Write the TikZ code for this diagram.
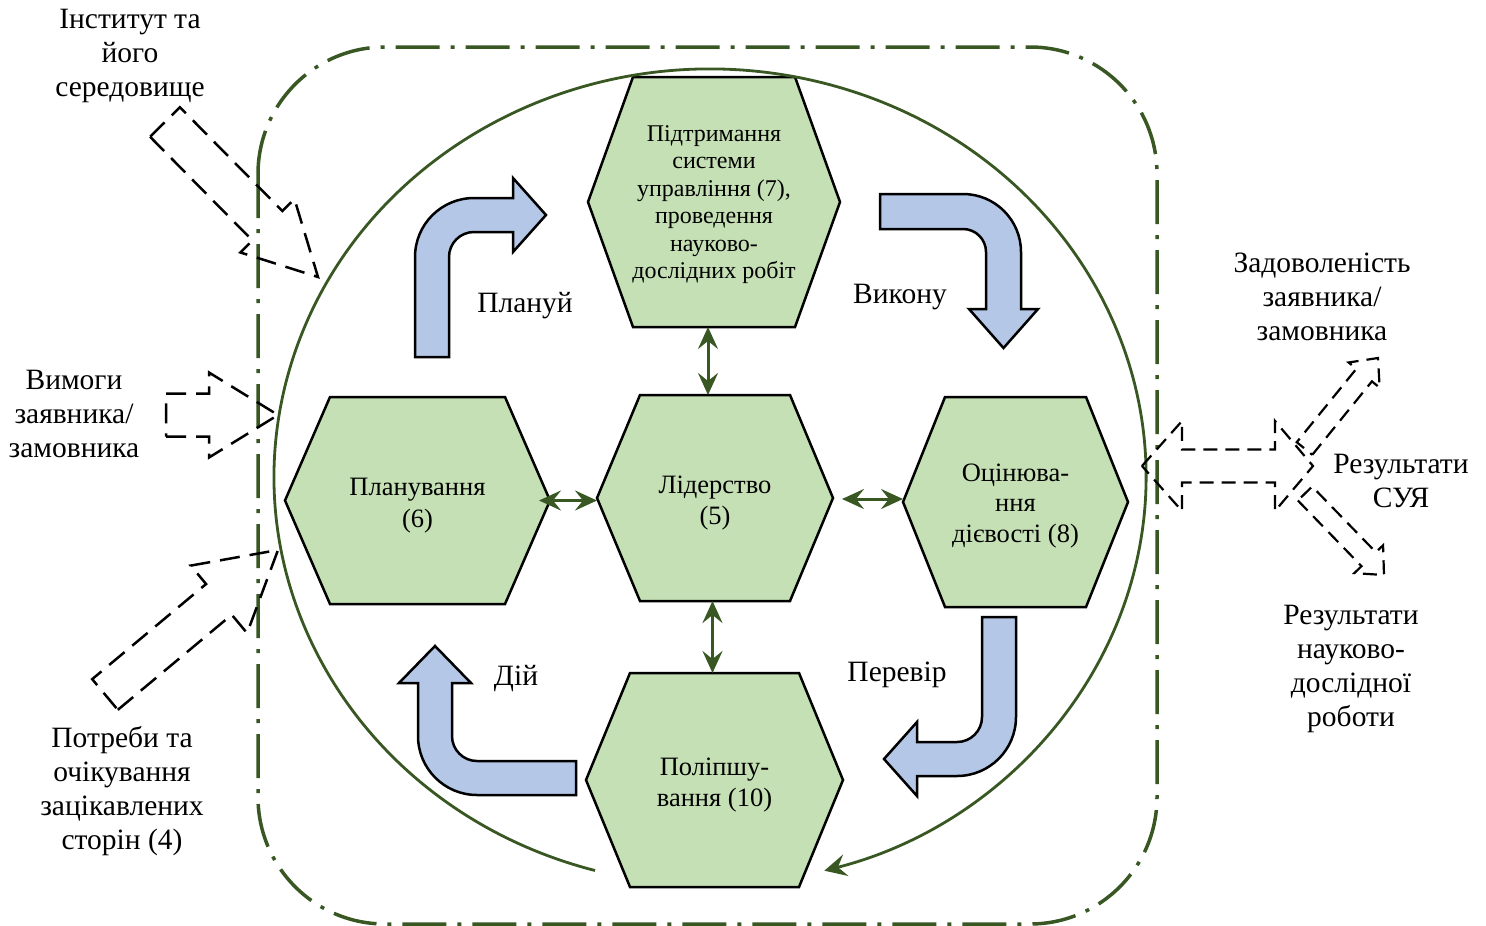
\documentclass[tikz,border=0pt]{standalone}
\usepackage{fontspec}
\setmainfont{Liberation Serif}
\usetikzlibrary{arrows.meta,calc,backgrounds}
\definecolor{hexgreen}{HTML}{C5E0B4}
\definecolor{darkgreen}{HTML}{385723}
\definecolor{arrowblue}{HTML}{B4C7E7}
\newcommand\outerfont{\fontsize{29.5}{34}\selectfont}
\newcommand\hexfont{\fontsize{26.5}{31.5}\selectfont}
\newcommand\hexfonttight{\fontsize{24}{27.5}\selectfont}
\tikzset{
  hexnode/.style={draw=none, inner sep=0pt, outer sep=0pt},
  hextext/.style={inner sep=0pt, align=center, font=\hexfont},
  hexline/.style={draw=black, fill=hexgreen, line width=2.5pt, line join=miter},
  bluearrow/.style={draw=black, fill=arrowblue, line width=2.5pt, line join=miter},
  lbl/.style={align=center, font=\outerfont, inner sep=0pt},
  linkarrow/.style={draw=darkgreen, line width=3pt, {Stealth[length=22pt,width=20pt,inset=8pt]}-{Stealth[length=22pt,width=20pt,inset=8pt]}},
  cyclearc/.style={draw=darkgreen, line width=2.8pt, -{Stealth[length=22pt,width=22pt,inset=8pt]}},
  outerframe/.style={draw=darkgreen, line width=3.5pt, dash pattern=on 44pt off 11pt on 4pt off 11pt},
  dasharrow/.style={draw=black, line width=2.5pt, dash pattern=on 20pt off 10pt, line join=miter},
  dasharrowsmall/.style={draw=black, line width=2.2pt, dash pattern=on 14pt off 8pt, line join=miter},
}
% hexagon outline around a named node: #1 node name, #2 inset of top/bottom edges
\newcommand\hexagonal[2]{%
  \begin{pgfonlayer}{background}
  \draw[hexline] ([xshift=#2]#1.north west) -- ([xshift=-#2]#1.north east) -- (#1.east)
    -- ([xshift=-#2]#1.south east) -- ([xshift=#2]#1.south west) -- (#1.west) -- cycle;
  \end{pgfonlayer}}
% block arrow: style, tail, tip, shaft half width, head half width, head length
\newcommand\blockarr[6]{%
  \coordinate (ba-b) at ($(#3)!#6!(#2)$);
  \draw[#1] ($(#2)!#4!-90:(#3)$) -- ($(ba-b)!#4!90:(#2)$) -- ($(ba-b)!#5!90:(#2)$) -- (#3)
    -- ($(ba-b)!#5!-90:(#2)$) -- ($(ba-b)!#4!-90:(#2)$) -- ($(#2)!#4!90:(#3)$) -- cycle;}
\begin{document}
\begin{tikzpicture}[x=1pt,y=-1pt]
\useasboundingbox (0,0) rectangle (1486,926);

% outer environment frame
\draw[outerframe, rounded corners=127pt] (258,47) rectangle (1157,924);

% hexagons (shape nodes) and their texts
\node[hexnode, minimum width=252pt, minimum height=250pt] (h7) at (714,202) {};
\hexagonal{h7}{45pt}
\node[hextext, font=\hexfonttight] (h7t) at (714,204.5)
  {Підтримання\\системи\\управління (7),\\проведення\\науково-\\дослідних робіт};
\node[hexnode, minimum width=265pt, minimum height=207pt] (h6) at (417.5,500.5) {};
\hexagonal{h6}{45pt}
\node[hextext] (h6t) at (417.5,505.5) {Планування\\(6)};
\node[hexnode, minimum width=236pt, minimum height=206pt] (h5) at (715,498) {};
\hexagonal{h5}{43pt}
\node[hextext] (h5t) at (715,503) {Лідерство\\(5)};
\node[hexnode, minimum width=225pt, minimum height=210pt] (h8) at (1015.5,502) {};
\hexagonal{h8}{42pt}
\node[hextext, font=\fontsize{26.5}{30.5}\selectfont] (h8t) at (1015.5,506) {Оцінюва-\\ння\\дієвості (8)};
\node[hexnode, minimum width=257pt, minimum height=214pt] (h10) at (714.5,780) {};
\hexagonal{h10}{44pt}
\node[hextext] (h10t) at (714.5,785) {Поліпшу-\\вання (10)};

% links to leadership
\draw[linkarrow] ([xshift=-6pt]h7.south) -- ([xshift=-6pt]h7.south |- h5.north);
\draw[linkarrow] ([xshift=-2pt]h10.north) -- ([xshift=-2pt]h10.north |- h5.south);
\draw[linkarrow] ([xshift=-11pt]h6.east) -- (h6.east -| h5.west);
\draw[linkarrow] ([xshift=9pt,yshift=-1pt]h5.east) -- ([yshift=-1pt]h5.east -| h8.west);

% PDCA cycle arc
\coordinate (arcstart) at (595,870.5);
\draw[cyclearc] (arcstart) arc[start angle=105.3, end angle=434.8, x radius=436, y radius=408];

% bent blue arrows
\draw[bluearrow] (415,357) -- (415,257) arc[start angle=180, end angle=270, radius=59] -- (513,198)
  -- (513,178) -- (546,215) -- (513,252) -- (513,232) -- (474,232)
  arc[start angle=270, end angle=180, radius=25] -- (449,357) -- cycle;
\draw[bluearrow] (880,194) -- (963,194) arc[start angle=270, end angle=360, radius=58] -- (1021,309)
  -- (1038,309) -- (1003.5,348) -- (969,309) -- (986,309) -- (986,252)
  arc[start angle=0, end angle=-90, radius=23] -- (880,229) -- cycle;
\draw[bluearrow] (982,617) -- (1016,617) -- (1016,717) arc[start angle=0, end angle=90, radius=59]
  -- (917,776) -- (917,796) -- (884,759) -- (917,722) -- (917,742) -- (957,742)
  arc[start angle=90, end angle=0, radius=25] -- cycle;
\draw[bluearrow] (576,761) -- (477,761) arc[start angle=90, end angle=180, radius=25] -- (452,683)
  -- (471,683) -- (435,646) -- (399,683) -- (418,683) -- (418,736)
  arc[start angle=180, end angle=90, radius=59] -- (576,795) -- cycle;

% cycle labels
\node[lbl] (lplan) at (525,306) {Плануй};
\node[lbl] (ldo) at (900,297) {Викону};
\node[lbl] (lcheck) at (897,675) {Перевір};
\node[lbl] (lact) at (516,679) {Дій};

% inputs (dashed block arrows)
\coordinate (inA) at (165,122);  \coordinate (inAt) at (318,277);
\blockarr{dasharrow}{inA}{inAt}{21pt}{38pt}{72pt}
\coordinate (inB) at (166,415);  \coordinate (inBt) at (278,415);
\blockarr{dasharrow}{inB}{inBt}{21.5pt}{42.5pt}{69pt}
\coordinate (inC) at (105,694.5);  \coordinate (inCt) at (278,550);
\blockarr{dasharrow}{inC}{inCt}{20pt}{44pt}{77pt}

% outputs
\draw[dasharrowsmall] (1142,466) -- (1182,421) -- (1182,449.5) -- (1275,449.5) -- (1275,421)
  -- (1313,466) -- (1275,511) -- (1275,482.5) -- (1182,482.5) -- (1182,511) -- cycle;
\coordinate (outU) at (1304.5,448.5);  \coordinate (outUt) at (1378,358);
\blockarr{dasharrowsmall}{outU}{outUt}{10pt}{20pt}{22pt}
\coordinate (outD) at (1305,493.5);  \coordinate (outDt) at (1384,575);
\blockarr{dasharrowsmall}{outD}{outDt}{10pt}{20pt}{22pt}

% outer labels
\node[lbl] (linst) at (130,56) {Інститут та\\його\\середовище};
\node[lbl] (lreq) at (74,414) {Вимоги\\заявника/\\замовника};
\node[lbl] (lneeds) at (122,791) {Потреби та\\очікування\\зацікавлених\\сторін (4)};
\node[lbl] (lsat) at (1322,297) {Задоволеність\\заявника/\\замовника};
\node[lbl] (lres) at (1401,481) {Результати\\СУЯ};
\node[lbl] (lresrd) at (1351,669) {Результати\\науково-\\дослідної\\роботи};
\end{tikzpicture}
\end{document}
